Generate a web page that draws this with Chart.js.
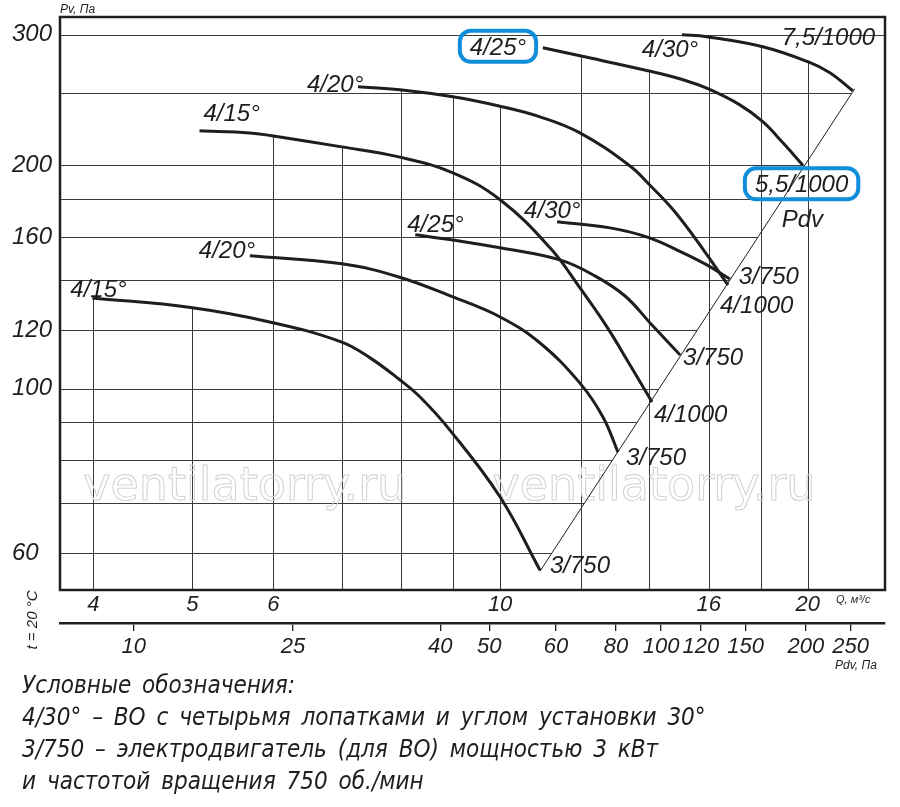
<!DOCTYPE html>
<html lang="ru">
<head>
  <meta charset="UTF-8">
  <title>Аэродинамические характеристики ВО</title>
  <script src="https://cdn.jsdelivr.net/npm/chart.js@4.4.1/dist/chart.umd.min.js"></script>
  <style>
    * { margin: 0; padding: 0; box-sizing: border-box; }
    body { width: 900px; height: 807px; background: #fff; overflow: hidden; position: relative; }
    .chart-box { position: absolute; left: 0; top: 0; width: 900px; height: 675px; }
    .notes { position: absolute; left: 22px; top: 669px; font-family: 'Liberation Sans Narrow', 'DejaVu Sans Condensed', sans-serif;
      font-style: italic; font-size: 24px; line-height: 32px; color: #1e1e1e; letter-spacing: 0; word-spacing: 4px; white-space: nowrap; }
  </style>
</head>
<body>
  <div class="chart-box"><canvas id="fanChart"></canvas></div>
  <div class="notes">
    Условные обозначения:<br>
    4/30° – ВО с четырьмя лопатками и углом установки 30°<br>
    3/750 – электродвигатель (для ВО) мощностью 3 кВт<br>
    и частотой вращения 750 об./мин
  </div>

  <script>
    // axes
    const qGrid = [4, 5, 6, 7, 8, 9, 10, 12, 14, 16, 18, 20];
    const qLabels = [4, 5, 6, 10, 16, 20];
    const pvGrid = [60, 70, 80, 90, 100, 120, 140, 160, 180, 200, 250, 300];
    const pvLabels = [60, 100, 120, 160, 200, 300];
    const pdvLabels = [10, 25, 40, 50, 60, 80, 100, 120, 150, 200, 250];
    const pdvAtQ = [4.38, 6.27, 8.74, 9.76, 11.34, 12.98, 14.37, 15.72, 17.39, 19.91, 22.03];

    // lower fan (3/750 motors)
    const qLow15 = [3.99, 4.98, 5.98, 6.99, 7.46, 7.96, 8.35, 8.93, 10.0, 10.94];
    const pvLow15 = [132.5, 128.6, 122.8, 115.6, 110.0, 103.0, 97.4, 87.9, 71.4, 56.9];
    const qLow20 = [5.69, 7.0, 7.96, 8.99, 10.0, 10.94, 11.97, 12.61, 13.04];
    const pvLow20 = [151.0, 147.3, 141.4, 132.9, 124.9, 115.2, 101.7, 91.5, 82.1];
    const qLow25 = [8.26, 8.99, 10.0, 11.44, 12.38, 13.25, 14.08, 15.0];
    const pvLow25 = [161.2, 158.6, 154.8, 149.1, 141.9, 133.3, 121.8, 111.0];
    const qLow30 = [11.37, 12.81, 14.0, 15.10, 15.93, 16.78];
    const pvLow30 = [167.9, 164.7, 159.7, 152.4, 146.8, 140.5];

    // upper fan
    const qUp15 = [5.08, 5.69, 5.98, 7.0, 7.96, 8.99, 10.0, 11.19, 11.97, 12.72, 13.40, 14.08];
    const pvUp15 = [222.6, 221.2, 219.2, 211.8, 205.3, 195.4, 179.7, 154.8, 136.7, 121.1, 107.6, 95.9];
    const qUp20 = [7.26, 7.98, 8.99, 9.95, 10.94, 11.97, 13.40, 14.0, 14.83, 15.86, 16.71];
    const pvUp20 = [255.3, 252.9, 247.4, 240.6, 232.5, 221.2, 199.6, 188.3, 173.0, 152.9, 137.9];
    const qUp25 = [11.01, 11.97, 13.95, 15.10, 15.97, 17.16, 18.07, 18.91, 19.78];
    const pvUp25 = [288.1, 281.0, 268.3, 260.9, 253.7, 241.3, 229.0, 214.5, 200.0];
    const qUp30 = [15.06, 15.93, 18.07, 20.0, 21.02, 22.13];
    const pvUp30 = [300, 298.1, 289.0, 275.9, 266.6, 252.1];

    // Pdv line
    const qPdv = [10.94, 22.23];
    const pvPdv = [56.7, 253.7];

    const bladeNames = ['4/15°', '4/20°', '4/25°', '4/30°', '4/15°', '4/20°', '4/25°', '4/30°'];
    const motorNames = ['3/750', '3/750', '3/750', '3/750', '4/1000', '4/1000', '5,5/1000', '7,5/1000'];

    // label placement: [dx, dy] from curve start / end, in px
    const startOffsets = [[-22, -1], [-51, 2], [-8, -3], [-33, -4], [4, -10], [-51, 5], [-73, 7], [-40, 22]];
    const endOffsets = [[10, 3], [8, 13], [3, 10], [9, 5], [2, 20], [-8, 28], [-48, 27], [-71, -46]];
    const boxedStart = [false, false, false, false, false, false, true, false];
    const boxedEnd = [false, false, false, false, false, false, true, false];

    const curves = [
      [qLow15, pvLow15], [qLow20, pvLow20], [qLow25, pvLow25], [qLow30, pvLow30],
      [qUp15, pvUp15], [qUp20, pvUp20], [qUp25, pvUp25], [qUp30, pvUp30]
    ];
    const toPoints = (q, pv) => q.map((v, i) => ({ x: v, y: pv[i] }));

    const INK = '#1e1e1e';
    const labelFont = 'italic 24px "Liberation Sans", Arial, sans-serif';

    const datasets = curves.map(c => ({
      data: toPoints(c[0], c[1]),
      borderColor: INK, borderWidth: 3, pointRadius: 0, showLine: true,
      tension: 0.4, fill: false
    }));
    datasets.push({
      data: toPoints(qPdv, pvPdv),
      borderColor: INK, borderWidth: 1, pointRadius: 0, showLine: true, fill: false, isDiag: true
    });

    function curveTopAt(chart, px) {
      let top = null;
      chart.data.datasets.forEach((ds, i) => {
        if (ds.isDiag) return;
        const pts = chart.getDatasetMeta(i).data;
        for (let k = 0; k < pts.length - 1; k++) {
          const a = pts[k], b = pts[k + 1];
          if (px >= a.x - 2 && px <= b.x) {
            const t = Math.max(0, (px - a.x) / (b.x - a.x));
            const y = a.y + t * (b.y - a.y);
            if (top === null || y < top) top = y;
          }
        }
      });
      return top;
    }

    function diagXAt(chart, py) {
      const idx = chart.data.datasets.findIndex(d => d.isDiag);
      const p = chart.getDatasetMeta(idx).data;
      const lo = p[0], hi = p[p.length - 1];
      if (py < hi.y) return chart.chartArea.right;
      return lo.x + (py - lo.y) * (hi.x - lo.x) / (hi.y - lo.y);
    }

    const decor = {
      id: 'decor',
      beforeDatasetsDraw(chart) {
        const { ctx, chartArea: ca, scales } = chart;
        ctx.save();
        ctx.strokeStyle = '#3a3a3a';
        ctx.lineWidth = 1;
        qGrid.forEach(v => {
          const x = Math.round(scales.x.getPixelForValue(v)) + 0.5;
          const top = curveTopAt(chart, x);
          ctx.beginPath();
          ctx.moveTo(x, top === null ? ca.top : top);
          ctx.lineTo(x, ca.bottom);
          ctx.stroke();
        });
        pvGrid.forEach(v => {
          const y = Math.round(scales.y.getPixelForValue(v)) + 0.5;
          ctx.beginPath();
          ctx.moveTo(ca.left, y);
          ctx.lineTo(Math.min(ca.right, diagXAt(chart, y)), y);
          ctx.stroke();
        });
        // watermark
        ctx.font = '46px "DejaVu Sans", sans-serif';
        ctx.textAlign = 'center';
        ctx.textBaseline = 'alphabetic';
        ctx.strokeStyle = '#d2d2d2';
        ctx.lineWidth = 1;
        const wy = ca.top + ca.height * 0.843;
        ctx.strokeText('ventilatorry.ru', ca.left + ca.width * 0.224, wy);
        ctx.strokeText('ventilatorry.ru', ca.left + ca.width * 0.72, wy);
        ctx.restore();
      },
      afterDatasetsDraw(chart) {
        const { ctx, chartArea: ca } = chart;
        ctx.save();
        ctx.strokeStyle = INK;
        ctx.lineWidth = 2.5;
        ctx.strokeRect(ca.left, ca.top, ca.width, ca.height);

        ctx.fillStyle = INK;
        ctx.font = labelFont;
        ctx.textAlign = 'left';
        ctx.textBaseline = 'alphabetic';
        const drawLabel = (txt, x, y, boxed) => {
          ctx.fillText(txt, x, y);
          if (boxed) {
            const w = ctx.measureText(txt).width;
            ctx.save();
            ctx.strokeStyle = '#0f8edc';
            ctx.lineWidth = 4;
            ctx.beginPath();
            ctx.roundRect(x - 10, y - 24, w + 20, 31, 11);
            ctx.stroke();
            ctx.restore();
          }
        };
        curves.forEach((c, i) => {
          const pts = chart.getDatasetMeta(i).data;
          const a = pts[0], b = pts[pts.length - 1];
          drawLabel(bladeNames[i], a.x + startOffsets[i][0], a.y + startOffsets[i][1], boxedStart[i]);
          drawLabel(motorNames[i], b.x + endOffsets[i][0], b.y + endOffsets[i][1], boxedEnd[i]);
        });
        const dIdx = chart.data.datasets.findIndex(d => d.isDiag);
        const dp = chart.getDatasetMeta(dIdx).data;
        const apex = dp[dp.length - 1];
        ctx.fillText('Pdv', apex.x - 73, apex.y + 138);

        // axis captions
        ctx.font = 'italic 12px "Liberation Sans", Arial, sans-serif';
        ctx.fillText('Pv, Па', ca.left, ca.top - 4);
        ctx.font = 'italic 11px "Liberation Sans", Arial, sans-serif';
        ctx.fillText('Q, м³/с', ca.right - 49, ca.bottom + 13);
        ctx.font = 'italic 12px "Liberation Sans", Arial, sans-serif';
        ctx.fillText('Pdv, Па', ca.right - 50, ca.bottom + 79);
        ctx.save();
        ctx.translate(ca.left - 23, ca.bottom + 30);
        ctx.rotate(-Math.PI / 2);
        ctx.textAlign = 'center';
        ctx.font = 'italic 15px "Liberation Sans", Arial, sans-serif';
        ctx.fillText('t = 20 °C', 0, 0);
        ctx.restore();
        ctx.restore();
      }
    };

    const tickFont = { family: '"Liberation Sans", Arial, sans-serif', size: 24, style: 'italic' };
    const xTickFont = { family: '"Liberation Sans", Arial, sans-serif', size: 22, style: 'italic' };
    const qMin = 3.71, qMax = 23.8;

    new Chart(document.getElementById('fanChart'), {
      type: 'scatter',
      data: { datasets },
      plugins: [decor],
      options: {
        responsive: true,
        maintainAspectRatio: false,
        animation: false,
        layout: { padding: { left: 12, top: 17, right: 15, bottom: 0 } },
        plugins: { legend: { display: false }, tooltip: { enabled: false } },
        scales: {
          x: {
            type: 'logarithmic', position: 'bottom', weight: 0, min: qMin, max: qMax,
            afterBuildTicks: s => { s.ticks = qGrid.map(v => ({ value: v })); },
            afterFit: s => { s.height = 33; },
            grid: { display: false }, border: { display: false },
            ticks: { autoSkip: false, maxRotation: 0, padding: -6, color: INK, font: xTickFont,
              callback: v => qLabels.includes(v) ? String(v) : '' }
          },
          x2: {
            type: 'logarithmic', axis: 'x', position: 'bottom', weight: 1, min: qMin, max: qMax,
            afterBuildTicks: s => { s.ticks = pdvAtQ.map(v => ({ value: v })); },
            afterFit: s => { s.height = 52; },
            grid: { display: true, drawOnChartArea: false, drawTicks: true, tickLength: 8, color: INK, lineWidth: 1.3 },
            border: { display: true, width: 2.5, color: INK },
            ticks: { autoSkip: false, maxRotation: 0, padding: 3, color: INK, font: xTickFont,
              callback: (v, i) => String(pdvLabels[i]) }
          },
          y: {
            type: 'logarithmic', position: 'left', min: 53.5, max: 317,
            afterBuildTicks: s => { s.ticks = pvGrid.map(v => ({ value: v })); },
            afterFit: s => { s.width = 48; },
            grid: { display: false }, border: { display: false },
            ticks: { autoSkip: false, crossAlign: 'far', padding: 0, color: INK, font: tickFont,
              callback: v => pvLabels.includes(v) ? String(v) : '' }
          }
        }
      }
    });
  </script>
</body>
</html>
